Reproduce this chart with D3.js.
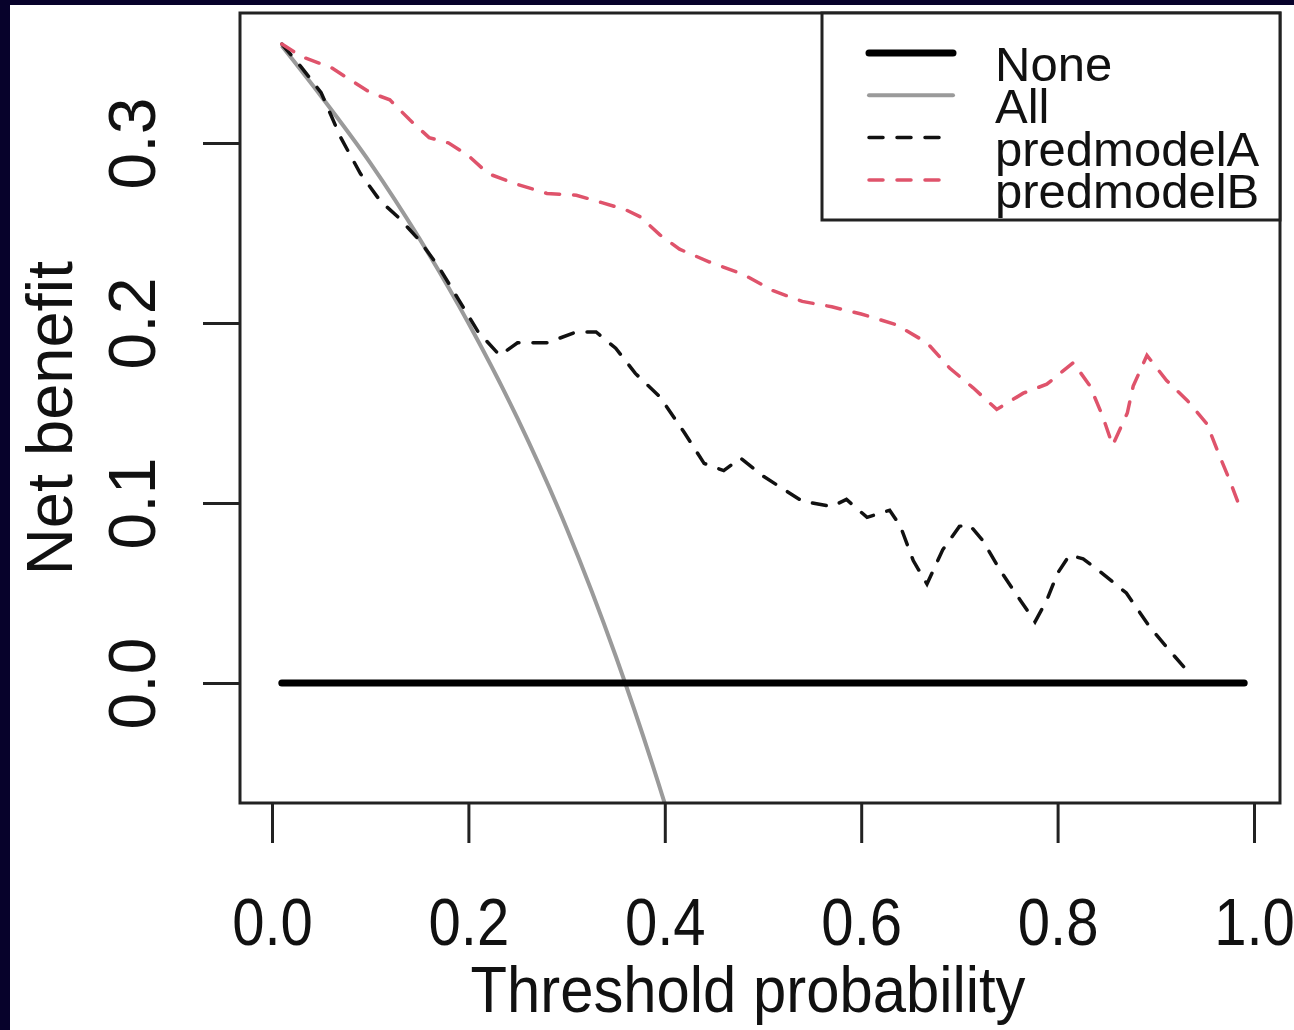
<!DOCTYPE html>
<html>
<head>
<meta charset="utf-8">
<script src="https://cdn.jsdelivr.net/npm/d3@7"></script>
<style>
  body { margin: 0; background: #fff; }
  text { font-family: "Liberation Sans", Arial, sans-serif; fill: #111; }
</style>
</head>
<body>
<div id="chart"></div>
<script>
// decision curve data
var xTicks = [0, 0.2, 0.4, 0.6, 0.8, 1.0];
var yTicks = [0, 0.1, 0.2, 0.3];

var noneX = [0.01, 0.99];
var noneY = [0, 0];

var allX = [0.01, 0.05, 0.10, 0.15, 0.20, 0.25, 0.30, 0.35, 0.40, 0.42];
var allY = [0.354, 0.326, 0.289, 0.247, 0.200, 0.147, 0.086, 0.015, -0.067, -0.103];

var modelAX = [0.01, 0.03, 0.05, 0.07, 0.09, 0.11, 0.13, 0.15, 0.17, 0.19, 0.21, 0.232, 0.25, 0.28, 0.31, 0.33,
  0.35, 0.37, 0.395, 0.42, 0.44, 0.46, 0.477, 0.50, 0.54, 0.57, 0.585, 0.606, 0.629, 0.64, 0.653, 0.667,
  0.683, 0.70, 0.71, 0.724, 0.741, 0.762, 0.777, 0.789, 0.80, 0.812, 0.826, 0.843, 0.87, 0.894, 0.914, 0.935];
var modelAY = [0.355, 0.342, 0.328, 0.303, 0.283, 0.268, 0.258, 0.246, 0.231, 0.213, 0.195, 0.182, 0.189, 0.189, 0.195, 0.195,
  0.186, 0.172, 0.159, 0.139, 0.122, 0.118, 0.125, 0.115, 0.101, 0.098, 0.102, 0.092, 0.096, 0.087, 0.068, 0.055,
  0.074, 0.087, 0.088, 0.079, 0.063, 0.046, 0.034, 0.046, 0.061, 0.071, 0.069, 0.062, 0.050, 0.031, 0.018, 0.005];

var modelBX = [0.01, 0.03, 0.06, 0.08, 0.10, 0.12, 0.14, 0.16, 0.18, 0.20, 0.22, 0.25, 0.28, 0.31, 0.335, 0.36,
  0.375, 0.395, 0.415, 0.445, 0.48, 0.51, 0.54, 0.57, 0.60, 0.636, 0.667, 0.69, 0.714, 0.738, 0.765, 0.789,
  0.816, 0.833, 0.846, 0.856, 0.871, 0.877, 0.891, 0.911, 0.932, 0.952, 0.965, 0.975, 0.986];
var modelBY = [0.355, 0.348, 0.342, 0.335, 0.328, 0.324, 0.313, 0.303, 0.300, 0.293, 0.283, 0.277, 0.272, 0.271, 0.267, 0.263,
  0.259, 0.249, 0.241, 0.234, 0.227, 0.218, 0.212, 0.209, 0.205, 0.199, 0.189, 0.175, 0.164, 0.152, 0.161, 0.166,
  0.178, 0.165, 0.148, 0.132, 0.150, 0.165, 0.182, 0.168, 0.157, 0.144, 0.126, 0.113, 0.097];

var legendNames = ["None", "All", "predmodelA", "predmodelB"];

var svgWidth = 1294;
var svgHeight = 1030;

// plot box
var box = { left: 240, top: 13, right: 1280, bottom: 803 };

var svg = d3.select("#chart").append("svg")
  .attr("width", svgWidth)
  .attr("height", svgHeight);

// dark frame on top and left
svg.append("rect").attr("x", 0).attr("y", 0).attr("width", svgWidth).attr("height", 5).attr("fill", "#07022b");
svg.append("rect").attr("x", 0).attr("y", 0).attr("width", 10).attr("height", svgHeight).attr("fill", "#07022b");

var xScale = d3.scaleLinear()
  .domain([0, 1])
  .range([272, 1254]);

var yScale = d3.scaleLinear()
  .domain([0, 0.1])
  .range([683, 503]);

svg.append("clipPath").attr("id", "plotclip")
  .append("rect")
  .attr("x", box.left).attr("y", box.top)
  .attr("width", box.right - box.left).attr("height", box.bottom - box.top);

var plot = svg.append("g").attr("clip-path", "url(#plotclip)");

function pts(xs, ys) {
  return xs.map(function(d, i) { return [d, ys[i]]; });
}

var straight = d3.line()
  .x(d => xScale(d[0]))
  .y(d => yScale(d[1]));

var smooth = d3.line()
  .curve(d3.curveMonotoneX)
  .x(d => xScale(d[0]))
  .y(d => yScale(d[1]));

// All
plot.append("path")
  .attr("d", smooth(pts(allX, allY)))
  .attr("fill", "none")
  .attr("stroke", "#9a9a9a")
  .attr("stroke-width", 4);

// None
plot.append("path")
  .attr("d", straight(pts(noneX, noneY)))
  .attr("fill", "none")
  .attr("stroke", "#000")
  .attr("stroke-width", 7)
  .attr("stroke-linecap", "round");

// predmodelA
plot.append("path")
  .attr("d", straight(pts(modelAX, modelAY)))
  .attr("fill", "none")
  .attr("stroke", "#111")
  .attr("stroke-width", 3.5)
  .attr("stroke-dasharray", "14,14")
  .attr("stroke-linecap", "round");

// predmodelB
plot.append("path")
  .attr("d", straight(pts(modelBX, modelBY)))
  .attr("fill", "none")
  .attr("stroke", "#DF536B")
  .attr("stroke-width", 3.5)
  .attr("stroke-dasharray", "14,14")
  .attr("stroke-linecap", "round");

// box
svg.append("rect")
  .attr("x", box.left).attr("y", box.top)
  .attr("width", box.right - box.left).attr("height", box.bottom - box.top)
  .attr("fill", "none")
  .attr("stroke", "#222")
  .attr("stroke-width", 3);

// x axis
var bottomAxis = d3.axisBottom(xScale)
  .tickValues(xTicks)
  .tickSizeInner(40)
  .tickSizeOuter(0)
  .tickPadding(55)
  .tickFormat(d3.format(".1f"));

var xg = svg.append("g")
  .attr("transform", "translate(0," + box.bottom + ")")
  .call(bottomAxis);
xg.select(".domain").remove();
xg.selectAll("line").attr("stroke", "#222").attr("stroke-width", 3);
xg.selectAll("text")
  .attr("font-size", 66)
  .attr("font-family", "Liberation Sans, Arial, sans-serif")
  .attr("fill", "#111")
  .attr("transform", "scale(0.88,1)");

// y axis
var leftAxis = d3.axisLeft(yScale)
  .tickValues(yTicks)
  .tickSizeInner(37)
  .tickSizeOuter(0)
  .tickFormat(d3.format(".1f"));

var yg = svg.append("g")
  .attr("transform", "translate(" + box.left + ",0)")
  .call(leftAxis);
yg.select(".domain").remove();
yg.selectAll("line").attr("stroke", "#222").attr("stroke-width", 3);
yg.selectAll("text")
  .attr("font-size", 66)
  .attr("font-family", "Liberation Sans, Arial, sans-serif")
  .attr("fill", "#111")
  .attr("x", 0)
  .attr("y", -85)
  .attr("dy", 0)
  .attr("text-anchor", "middle")
  .attr("transform", "rotate(-90)");

// axis titles
svg.append("text")
  .attr("transform", "translate(748,1012) scale(0.92,1)")
  .attr("text-anchor", "middle")
  .attr("font-size", 65)
  .text("Threshold probability");

svg.append("text")
  .attr("transform", "translate(72,418) rotate(-90)")
  .attr("text-anchor", "middle")
  .attr("font-size", 65)
  .text("Net benefit");

// legend
var legend = svg.append("g");
legend.append("rect")
  .attr("x", 822).attr("y", box.top)
  .attr("width", box.right - 822).attr("height", 207)
  .attr("fill", "#fff")
  .attr("stroke", "#222")
  .attr("stroke-width", 3);

var legendStyle = [
  { stroke: "#000", width: 7, dash: null },
  { stroke: "#9a9a9a", width: 4, dash: null },
  { stroke: "#111", width: 3.5, dash: "14,14" },
  { stroke: "#DF536B", width: 3.5, dash: "14,14" }
];

legendNames.forEach(function(name, i) {
  var ly = 53 + i * 42.3;
  legend.append("line")
    .attr("x1", 869).attr("x2", 953)
    .attr("y1", ly).attr("y2", ly)
    .attr("stroke", legendStyle[i].stroke)
    .attr("stroke-width", legendStyle[i].width)
    .attr("stroke-dasharray", legendStyle[i].dash)
    .attr("stroke-linecap", "round");
  legend.append("text")
    .attr("x", 995)
    .attr("y", ly + 28)
    .attr("font-size", 49)
    .text(name);
});
</script>
</body>
</html>
